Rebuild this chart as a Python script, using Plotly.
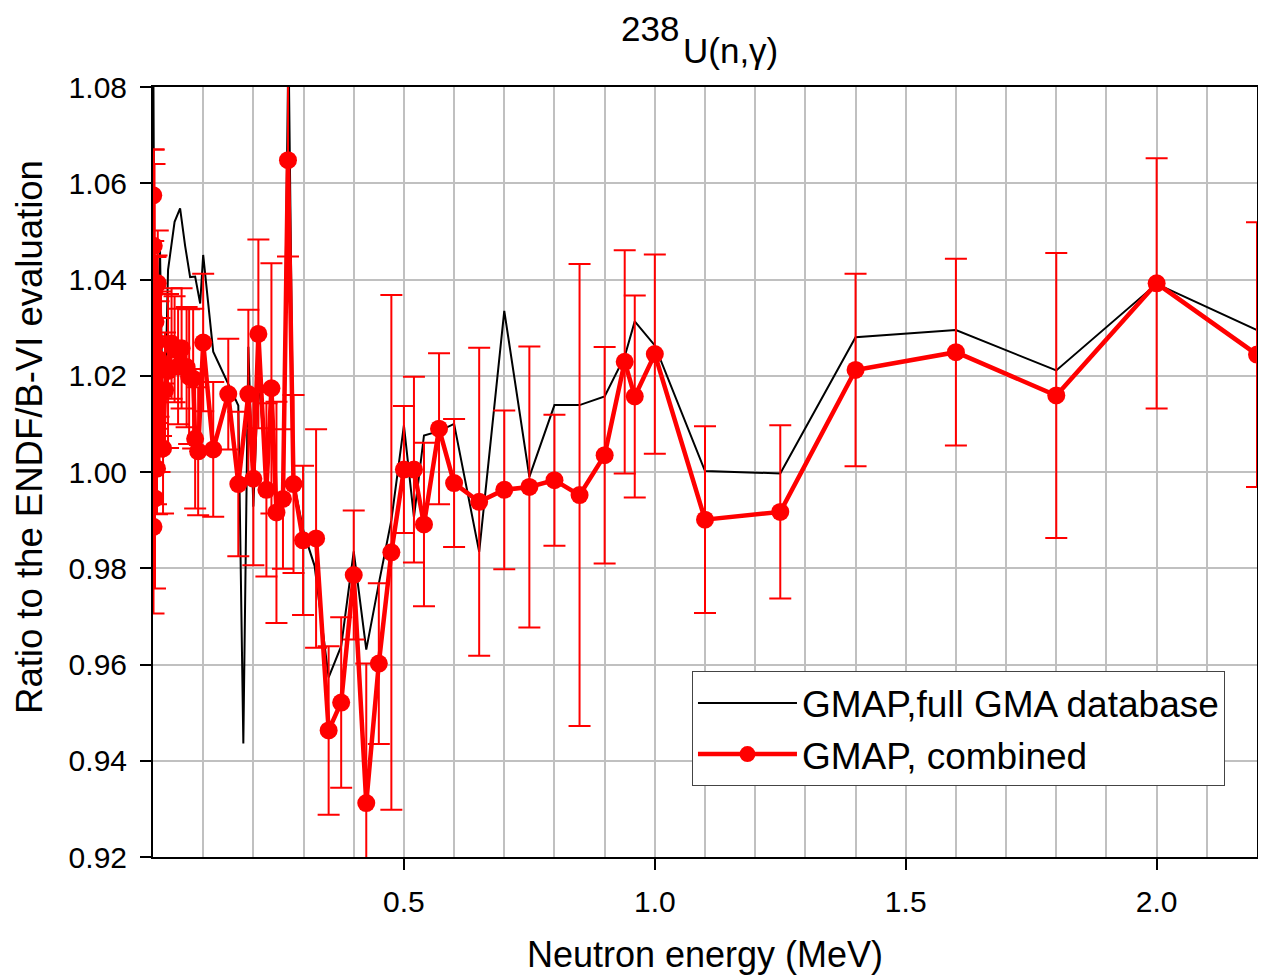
import plotly.graph_objects as go

# ---- GMAP, full GMA database (black line) ----
full_x = [0.0005, 0.003, 0.006, 0.010, 0.014, 0.018, 0.022, 0.030, 0.043, 0.054,
          0.064, 0.074, 0.084, 0.094, 0.100, 0.120, 0.170, 0.180, 0.190, 0.200,
          0.210, 0.226, 0.236, 0.246, 0.259, 0.270, 0.280, 0.300, 0.322, 0.350,
          0.375, 0.400, 0.425, 0.450, 0.475, 0.500, 0.520, 0.540, 0.570, 0.600,
          0.650, 0.700, 0.750, 0.800, 0.850, 0.900, 0.940, 0.960, 1.000, 1.100,
          1.250, 1.400, 1.600, 1.800, 2.000, 2.200]
full_y = [1.090, 1.030, 1.020, 1.035, 1.046, 1.020, 1.005, 1.042, 1.052, 1.0548,
          1.047, 1.0405, 1.0406, 1.035, 1.0451, 1.025, 1.0138, 0.9436, 1.026, 0.9928,
          1.020, 1.000, 1.015, 0.990, 0.995, 1.090, 0.998, 0.9876, 0.9805, 0.9573,
          0.9638, 0.9835, 0.9631, 0.9768, 0.990, 1.0097, 0.9906, 1.0076, 1.0085, 1.010,
          0.9834, 1.0335, 0.999, 1.0139, 1.0139, 1.0157, 1.024, 1.0313, 1.0263, 1.0002,
          0.9997, 1.028, 1.0295, 1.0211, 1.0391, 1.0295]

# ---- GMAP, combined (red with error bars) ----
comb_x = [0.0005, 0.001, 0.0015, 0.002, 0.003, 0.004, 0.005, 0.006, 0.007, 0.008,
          0.0095, 0.011, 0.013, 0.016, 0.020, 0.024, 0.030, 0.037, 0.043, 0.050,
          0.057, 0.067, 0.072, 0.080, 0.084, 0.090, 0.100, 0.120, 0.150, 0.170,
          0.190, 0.200, 0.210, 0.226, 0.236, 0.246, 0.259, 0.269, 0.280, 0.299,
          0.325, 0.350, 0.375, 0.400, 0.425, 0.450, 0.475, 0.500, 0.520, 0.540,
          0.570, 0.600, 0.650, 0.700, 0.750, 0.800, 0.850, 0.900, 0.940, 0.960,
          1.000, 1.100, 1.250, 1.400, 1.600, 1.800, 2.000, 2.200]
comb_y = [1.0575, 0.9886, 1.047, 1.0152, 1.0375, 0.9945, 1.0312, 1.0073, 1.027, 1.0007,
          1.0392, 1.0235, 1.016, 1.0225, 1.0049, 1.017, 1.021, 1.0267, 1.0255, 1.0219,
          1.0257, 1.0218, 1.0198, 1.0194, 1.0069, 1.0043, 1.0269, 1.0047, 1.0162, 0.9975,
          1.0162, 0.9986, 1.0287, 0.9963, 1.0174, 0.9916, 0.9944, 1.0648, 0.9975, 0.9858,
          0.9862, 0.9463, 0.9521, 0.9786, 0.9312, 0.9602, 0.9833, 1.0005, 1.0005, 0.9891,
          1.009, 0.9977, 0.9938, 0.9963, 0.9969, 0.9983, 0.9952, 1.0035, 1.0229, 1.0157,
          1.0245, 0.9901, 0.9917, 1.0212, 1.0249, 1.0159, 1.0392, 1.0244]
comb_err = [0.0095, 0.018, 0.020, 0.012, 0.0265, 0.0187, 0.0135, 0.014, 0.018, 0.0095,
            0.011, 0.012, 0.016, 0.015, 0.0135, 0.012, 0.016, 0.0115, 0.011, 0.012,
            0.0125, 0.0125, 0.014, 0.0145, 0.0145, 0.0133, 0.0143, 0.014, 0.0115, 0.015,
            0.0175, 0.018, 0.0196, 0.018, 0.026, 0.023, 0.0145, 0.020, 0.0185, 0.0155,
            0.0227, 0.0175, 0.0177, 0.0134, 0.029, 0.0167, 0.0535, 0.0132, 0.0193, 0.017,
            0.0157, 0.0133, 0.032, 0.0165, 0.0292, 0.0136, 0.048, 0.0225, 0.0232, 0.021,
            0.0207, 0.0194, 0.018, 0.020, 0.0194, 0.0296, 0.026, 0.0275]

x_major = [0.5, 1.0, 1.5, 2.0]
x_major_text = ["0.5", "1.0", "1.5", "2.0"]
x_minor = [0.1, 0.2, 0.3, 0.4, 0.6, 0.7, 0.8, 0.9, 1.1, 1.2, 1.3, 1.4,
           1.6, 1.7, 1.8, 1.9, 2.1]

FONT = "Liberation Sans, Arial, sans-serif"

fig = go.Figure()
fig.add_trace(go.Scatter(
    x=full_x, y=full_y, mode="lines", name="GMAP,full GMA database",
    line=dict(color="black", width=2), cliponaxis=True))
fig.add_trace(go.Scatter(
    x=comb_x, y=comb_y, mode="lines+markers", name="GMAP, combined",
    line=dict(color="#ff0000", width=4.5),
    marker=dict(size=18, color="#ff0000"),
    error_y=dict(type="data", array=comb_err, color="#ff0000", thickness=2, width=11),
    cliponaxis=True))

# page body has an 8px margin, so the figure is shrunk by 8px and margins shifted
fig.update_layout(
    width=1258, height=970,
    margin=dict(l=145, r=9, t=79, b=121, autoexpand=False),
    paper_bgcolor="white", plot_bgcolor="white",
    font=dict(family=FONT, color="black", size=30),
    showlegend=True,
    legend=dict(x=0.4882, y=0.241, xanchor="left", yanchor="top",
                bgcolor="white", bordercolor="#444444", borderwidth=1,
                font=dict(size=37, family=FONT), tracegroupgap=0,
                itemwidth=99),
    annotations=[
        dict(text="238", x=0.4785, y=1.0766, xref="paper", yref="paper",
             xanchor="right", yanchor="middle", showarrow=False,
             font=dict(size=35, family=FONT)),
        dict(text="U(n,γ)", x=0.4785, y=1.0468, xref="paper", yref="paper",
             xanchor="left", yanchor="middle", showarrow=False,
             font=dict(size=35, family=FONT)),
        dict(text="Ratio to the ENDF/B-VI evaluation", x=-0.1114, y=0.5455,
             xref="paper", yref="paper", xanchor="center", yanchor="middle",
             textangle=-90, showarrow=False, font=dict(size=36.5, family=FONT)),
    ],
)

fig.update_xaxes(
    range=[0, 2.2], tickmode="array", tickvals=x_major, ticktext=x_major_text,
    ticks="outside", ticklen=11, tickwidth=2, tickcolor="black",
    showline=True, linecolor="black", linewidth=2, mirror=True,
    showgrid=True, gridcolor="#c0c0c0", gridwidth=2, zeroline=False,
    minor=dict(tickmode="array", tickvals=x_minor, showgrid=True,
               gridcolor="#c0c0c0", gridwidth=2, ticks=""),
    tickfont=dict(size=30), ticklabelstandoff=6, automargin=False,
    title=dict(text="Neutron energy (MeV)", font=dict(size=36), standoff=25),
)
fig.update_yaxes(
    range=[0.92, 1.08], tickmode="linear", tick0=0.92, dtick=0.02, tickformat=".2f",
    ticks="outside", ticklen=11, tickwidth=2, tickcolor="black",
    showline=True, linecolor="black", linewidth=2, mirror=True,
    showgrid=True, gridcolor="#c0c0c0", gridwidth=2, zeroline=False,
    tickfont=dict(size=30), ticklabelstandoff=7, automargin=False,
)

fig.write_html("out.html")
